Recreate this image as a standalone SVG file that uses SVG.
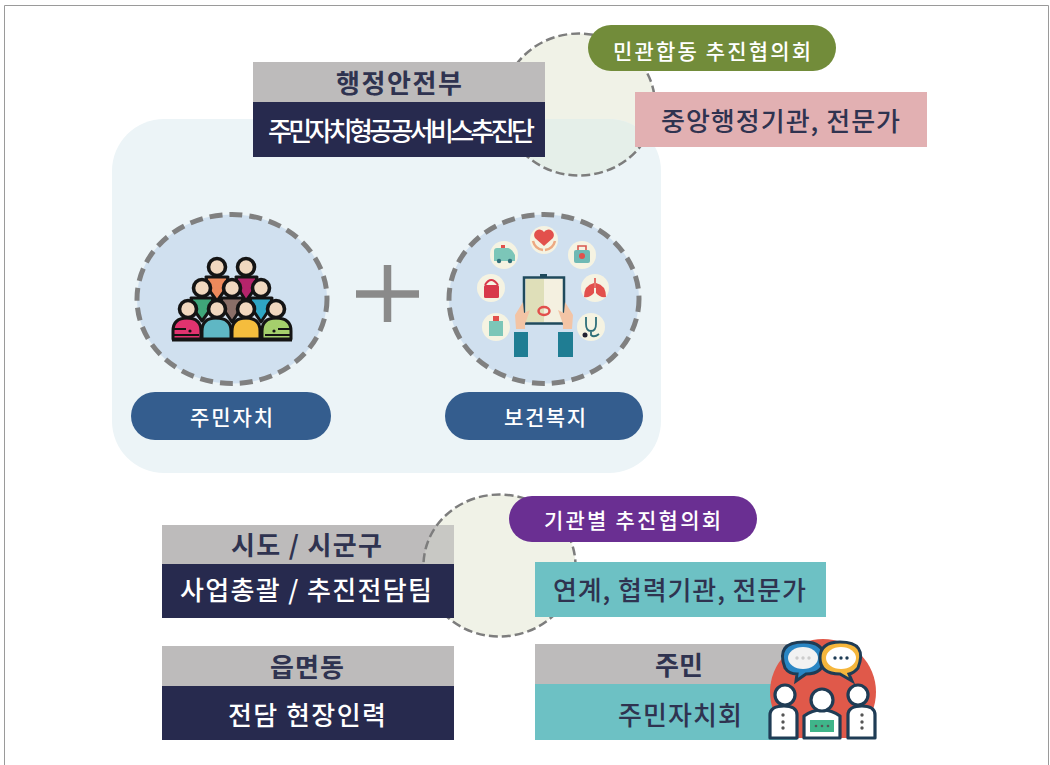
<svg xmlns="http://www.w3.org/2000/svg" width="1050" height="765" viewBox="0 0 1050 765">
<style>
text{font-family:"Noto Sans CJK KR","Noto Sans",sans-serif;text-anchor:middle;font-weight:500}
.navy{fill:#272a4e}.grey{fill:#bdbbbb}.teal{fill:#6dc1c4}
.hd{font-size:26px;fill:#2f3350;font-weight:700}
.wh{font-size:26px;fill:#fff;font-weight:500}
.pill{font-size:21px;fill:#fff}
.dk{font-size:26px;fill:#2f3350;font-weight:500}
.ring{fill:#d0e0ef;stroke:#808080;stroke-width:5;stroke-dasharray:13 7}
.halo{fill:#f0f2e7;stroke:#7d7d7d;stroke-width:2.500;stroke-dasharray:9 4}
.o{stroke:#141414;stroke-width:3;stroke-linejoin:round}
.face{fill:#f1d8bf;stroke:#141414;stroke-width:3.600}
.disc{fill:#f5f3e2}
.ln{stroke:#1f3c55;stroke-width:3.200;fill:#fff;stroke-linejoin:round}
</style>
<defs>
<clipPath id="base"><rect x="760" y="630" width="125" height="108"/></clipPath>
<clipPath id="panel-area"><rect x="112" y="119" width="549" height="354" rx="52"/></clipPath>
<clipPath id="grey-area"><rect x="162" y="525" width="292" height="39"/></clipPath>
</defs>
<rect width="1050" height="765" fill="#fff"/>
<path d="M4.500 765V5.500H1048.500V765" fill="none" stroke="#9a9a9a" stroke-width="1"/>

<g id="halo-top"><ellipse class="halo" cx="579" cy="104.500" rx="76" ry="71"/></g>
<g id="panel"><rect x="112" y="119" width="549" height="354" rx="52" fill="#ecf4f7"/>
<ellipse class="halo" cx="579" cy="104.500" rx="76" ry="71" clip-path="url(#panel-area)" style="fill:#e5efe9"/></g>

<g id="mois"><rect class="grey" x="253" y="62" width="292" height="40"/><rect class="navy" x="253" y="102" width="292" height="55"/>
<text class="hd" x="399" y="93" textLength="126">행정안전부</text>
<text class="wh" x="401.500" y="141" textLength="267">주민자치형공공서비스추진단</text></g>
<g id="council-top"><rect x="588" y="25" width="248" height="46" rx="23" fill="#728c3a"/><text class="pill" x="712" y="59" textLength="198">민관합동 추진협의회</text></g>
<g id="central"><rect x="635" y="92" width="292" height="55" fill="#e2b0b2"/><text class="dk" x="780.500" y="131" textLength="239">중앙행정기관, 전문가</text></g>

<g id="self-gov">
<ellipse class="ring" cx="232" cy="299" rx="95" ry="84.500"/>
<!-- crowd: back row, middle row, front row -->
<path class="o" d="M206 277H228L225 290L217 301L209 290Z" fill="#ee8a5c"/>
<path class="o" d="M236 277H257L254 290L246 301L239 290Z" fill="#b5246b"/>
<path class="o" d="M191 298H213L210 310L202 321L194 310Z" fill="#3fa67a"/>
<path class="o" d="M221 298H243L240 310L232 322L224 310Z" fill="#8a6f68"/>
<path class="o" d="M250 298H272L269 310L261 322L253 310Z" fill="#2fa6c4"/>
<circle class="face" cx="217" cy="267" r="8.500"/><circle class="face" cx="246" cy="267" r="8.500"/>
<circle class="face" cx="202" cy="288" r="8.500"/><circle class="face" cx="232" cy="288" r="8.500"/><circle class="face" cx="261" cy="288" r="8.500"/>
<path class="o" d="M173 339V331Q173 318 187 318Q201 318 201 331V339Z" fill="#e1336f"/>
<path class="o" d="M202 339V331Q202 318 216 318Q231 318 231 331V339Z" fill="#5fb7c4"/>
<path class="o" d="M232 339V331Q232 318 246 318Q260 318 260 331V339Z" fill="#f5bd3d"/>
<path class="o" d="M262 339V331Q262 318 276 318Q291 318 291 331V339Z" fill="#a5cf6c"/>
<circle class="face" cx="188" cy="309" r="8.500"/><circle class="face" cx="217" cy="309" r="8.500"/><circle class="face" cx="246" cy="309" r="8.500"/><circle class="face" cx="276" cy="309" r="8.500"/>
<path d="M174 329H186M174 335H199M278 329H290M265 335H290" stroke="#141414" stroke-width="2"/>
<circle cx="190" cy="331" r="1.600" fill="#141414"/><circle cx="274" cy="331" r="1.600" fill="#141414"/>
<path d="M172 340H292" stroke="#141414" stroke-width="3"/>
</g>
<g id="plus"><path d="M356 294H419M387.500 265V322" stroke="#8a8a8a" stroke-width="7.500"/></g>

<g id="welfare">
<ellipse class="ring" cx="544" cy="299" rx="95" ry="84.500"/>
<g class="disc"><circle cx="544" cy="240" r="14"/><circle cx="582" cy="255" r="14"/><circle cx="595" cy="288" r="14"/><circle cx="591" cy="327" r="14"/><circle cx="496" cy="327" r="14"/><circle cx="491" cy="288" r="14"/><circle cx="504" cy="255" r="14"/></g>
<!-- heart in two hands -->
<path d="M544 246L535 238A5 5 0 0 1 544 232A5 5 0 0 1 553 238Z" fill="#e2504c"/>
<path d="M533 241Q535 249 543 250M555 241Q553 249 545 250" fill="none" stroke="#eda981" stroke-width="2.500"/>
<!-- medical case -->
<rect x="574" y="250" width="16" height="13" rx="2" fill="#6fb9b4"/><path d="M578 250V246H586V250" fill="none" stroke="#d9574f" stroke-width="1.600"/><circle cx="582" cy="256" r="3" fill="#e2504c"/>
<!-- lungs -->
<path d="M594 283Q584 285 584 297Q590 298 594 293ZM596 283Q606 285 606 297Q600 298 596 293Z" fill="#e2504c"/><path d="M595 278V288" stroke="#e2504c" stroke-width="1.600"/>
<!-- stethoscope -->
<path d="M586 317V324Q586 331 591 331Q596 331 596 324V317M591 331V335Q594 338 599 334" fill="none" stroke="#2f6f7a" stroke-width="1.800"/><circle cx="585" cy="335" r="2.500" fill="#223"/>
<!-- hospital -->
<path d="M489 321H503V336H489Z" fill="#7cc6b8"/><rect x="493" y="316" width="6" height="5" fill="#e2504c"/>
<!-- bag -->
<rect x="484" y="285" width="15" height="13" rx="1.500" fill="#d8394a"/><path d="M485 285Q491 275 498 285" fill="none" stroke="#d8394a" stroke-width="2"/>
<!-- ambulance -->
<path d="M494 261V251Q494 248 497 248H508Q512 249 515 255V261Z" fill="#7cc6b8"/><rect x="501" y="245" width="4" height="3" fill="#e2504c"/><circle cx="499" cy="261" r="2.200" fill="#2f6f7a"/><circle cx="510" cy="261" r="2.200" fill="#2f6f7a"/>
<!-- clipboard -->
<rect x="524" y="277.500" width="40" height="46" fill="#f4f0e0" stroke="#1f4a5c" stroke-width="2.500"/>
<rect x="526" y="279" width="18" height="43" fill="#dfdfb9"/><rect x="540" y="274" width="7" height="4" fill="#1f4a5c"/>
<ellipse cx="544" cy="311" rx="5.500" ry="4" fill="none" stroke="#e2504c" stroke-width="2.500"/>
<path d="M516 329L515 315L523 302L524 313L530 310L525 324V329ZM572 329L573 315L565 302L564 313L558 310L563 324V329Z" fill="#f3c4a5"/>
<rect x="514" y="332" width="14" height="25" fill="#1f7d93"/><rect x="558" y="332" width="15" height="25" fill="#1f7d93"/>
</g>
<g id="pill-self"><rect x="131" y="392" width="200" height="48" rx="24" fill="#345d8e"/><text class="pill" x="231.500" y="425" textLength="83">주민자치</text></g>
<g id="pill-welfare"><rect x="445" y="392" width="198" height="48" rx="24" fill="#345d8e"/><text class="pill" x="545" y="425" textLength="82">보건복지</text></g>

<g id="halo-low"><ellipse class="halo" cx="499.500" cy="565.500" rx="76" ry="71"/></g>
<g id="sido"><rect class="grey" x="162" y="525" width="292" height="39"/>
<ellipse class="halo" cx="499.500" cy="565.500" rx="76" ry="71" clip-path="url(#grey-area)" style="fill:#c8c8c4"/>
<rect class="navy" x="162" y="564" width="292" height="54"/>
<text class="hd" x="306.500" y="555" textLength="151">시도 / 시군구</text><text class="wh" x="306" y="600" textLength="252">사업총괄 / 추진전담팀</text></g>
<g id="council-low"><rect x="509" y="496" width="248" height="46" rx="23" fill="#6a2f92"/><text class="pill" x="632.500" y="528" textLength="177">기관별 추진협의회</text></g>
<g id="partners"><rect class="teal" x="535" y="562" width="291" height="55"/><text class="dk" x="679.500" y="600" textLength="253">연계, 협력기관, 전문가</text></g>
<g id="town"><rect class="grey" x="162" y="646" width="292" height="40"/><rect class="navy" x="162" y="686" width="292" height="54"/>
<text class="hd" x="307" y="677" textLength="74">읍면동</text><text class="wh" x="307" y="725" textLength="158">전담 현장인력</text></g>
<g id="residents"><rect class="grey" x="535" y="644" width="260" height="40"/><rect class="teal" x="535" y="684" width="262" height="56"/>
<text class="hd" x="679" y="675" textLength="48">주민</text><text class="dk" x="680" y="725" textLength="124">주민자치회</text>
<circle cx="823" cy="692" r="53" fill="#e0594a" clip-path="url(#base)"/>
<path d="M785 668Q775 642 804 642Q824 642 824 658Q824 674 806 674L796 681L797 674Q789 674 785 668Z" fill="#2a86c4" stroke="#1f3c55" stroke-width="3"/>
<ellipse cx="803" cy="658" rx="15" ry="11" fill="#f2f2f2"/>
<path d="M858 668Q868 642 840 642Q820 642 820 658Q820 674 840 674L852 681L849 674Q854 673 858 668Z" fill="#f5b63c" stroke="#1f3c55" stroke-width="3"/>
<ellipse cx="841" cy="658" rx="15" ry="11" fill="#fff"/>
<g fill="#1f3c55"><circle cx="835" cy="658" r="1.700"/><circle cx="841" cy="658" r="1.700"/><circle cx="847" cy="658" r="1.700"/></g>
<g fill="#ccc"><circle cx="797" cy="658" r="1.700"/><circle cx="803" cy="658" r="1.700"/><circle cx="809" cy="658" r="1.700"/></g>
<path class="ln" d="M770 738V715Q770 706 784 706Q797 706 797 715V738Z"/>
<path class="ln" d="M848 738V715Q848 706 862 706Q875 706 875 715V738Z"/>
<path class="ln" d="M804 738V716Q812 710 822 710Q832 710 840 716V738Z"/>
<rect x="810" y="720" width="24" height="12" fill="#3fb58a"/>
<circle class="ln" cx="785" cy="695" r="10"/><circle class="ln" cx="822" cy="700" r="11"/><circle class="ln" cx="858" cy="695" r="10"/>
<g fill="#555"><circle cx="783" cy="715" r="1.700"/><circle cx="783" cy="722" r="1.700"/><circle cx="783" cy="728" r="1.700"/><circle cx="862" cy="715" r="1.700"/><circle cx="862" cy="722" r="1.700"/><circle cx="862" cy="728" r="1.700"/><circle cx="816" cy="726" r="1.300"/><circle cx="822" cy="726" r="1.300"/><circle cx="828" cy="726" r="1.300"/></g>
</g>
</svg>
